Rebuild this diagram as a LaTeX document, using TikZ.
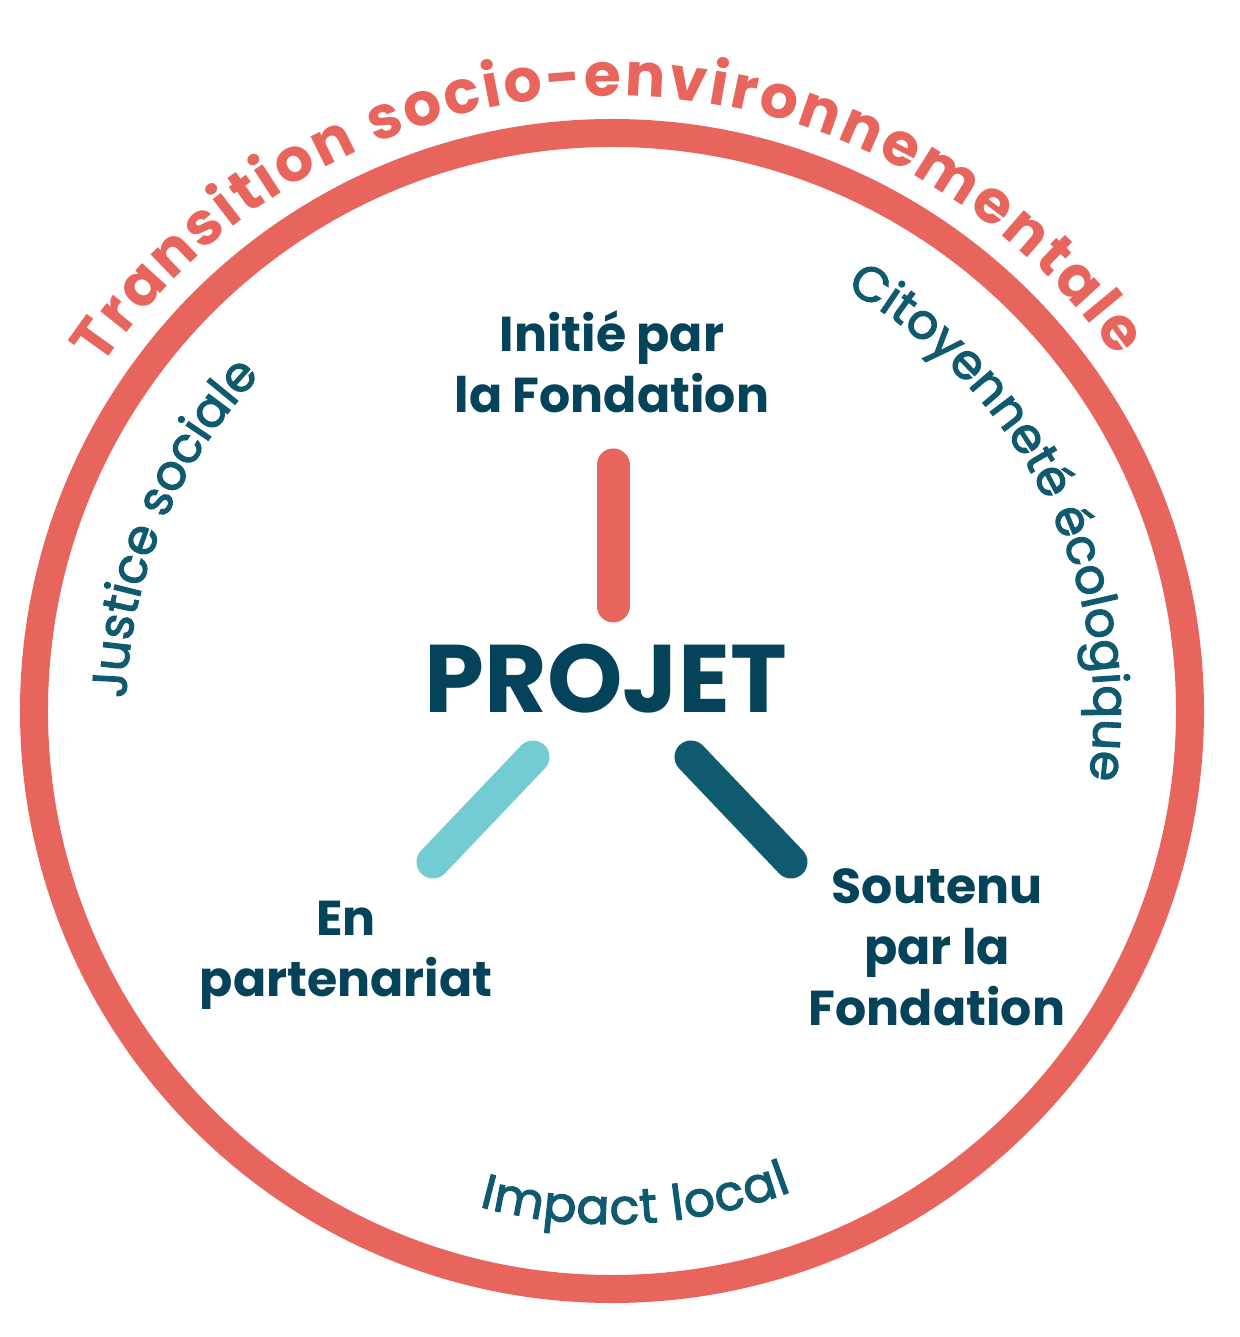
\documentclass[tikz,border=0pt]{standalone}
\usepackage{fontspec}
\setmainfont{Poppins}
\newfontfamily\arcfont[FakeBold=2.5]{Poppins}
\usetikzlibrary{decorations.text}
\definecolor{ringred}{HTML}{E8655D}
\definecolor{deepteal}{HTML}{04435A}
\definecolor{midteal}{HTML}{105A70}
\definecolor{lightteal}{HTML}{73CBD3}

\begin{document}
\begin{tikzpicture}[x=0.5pt, y=0.5pt,
    ring/.style={draw=ringred, line width=14pt},
    bar/.style={line width=16.5pt, line cap=round},
    labeltext/.style={text=deepteal, font=\bfseries\fontsize{24.5}{30.5}\selectfont, align=center},
    titlearc/.style={decorate, decoration={text along path, text={|\bfseries\fontsize{30}{34}\selectfont|#1}, text color=ringred, text align={fit to path}}},
    themearc/.style={decorate, decoration={text along path, text={|\arcfont\fontsize{24.3}{29}\selectfont|#1}, text color=midteal, text align={fit to path}}}]
    \useasboundingbox (-612,-626) rectangle (627,711);
    % Ring
    \draw[ring] (0,0) circle[radius=578];
    % Texts along the ring
    \path[titlearc={Transition socio-environnementale}] (146:615) arc[start angle=146, end angle=35, radius=615];
    \path[themearc={Justice sociale}] (178.5:486) arc[start angle=178.5, end angle=136.5, radius=486];
    \path[themearc={Citoyenneté écologique}] (61:482) arc[start angle=61, end angle=-7.5, radius=482];
    \path[themearc={Impact local}] (255:513) arc[start angle=255, end angle=290.5, radius=513];
    % Nodes
    \node[text=deepteal, font=\bfseries\fontsize{48}{52}\selectfont] (projet) at (-6,32) {PROJET};
    \node[labeltext] (initie) at (0,349) {Initié par\\la Fondation};
    \node[labeltext] (partenariat) at (-266,-244) {En\\partenariat};
    \node[labeltext] (soutenu) at (325,-236) {Soutenu\\par la\\Fondation};
    % Bars
    \coordinate (ini-a) at (1,246);
    \coordinate (ini-b) at (1,105);
    \coordinate (par-a) at (-79,-46);
    \coordinate (par-b) at (-179,-151);
    \coordinate (sou-a) at (79,-46);
    \coordinate (sou-b) at (179,-151);
    \draw[bar, ringred] (ini-a) -- (ini-b);
    \draw[bar, lightteal] (par-a) -- (par-b);
    \draw[bar, midteal] (sou-a) -- (sou-b);
\end{tikzpicture}
\end{document}
